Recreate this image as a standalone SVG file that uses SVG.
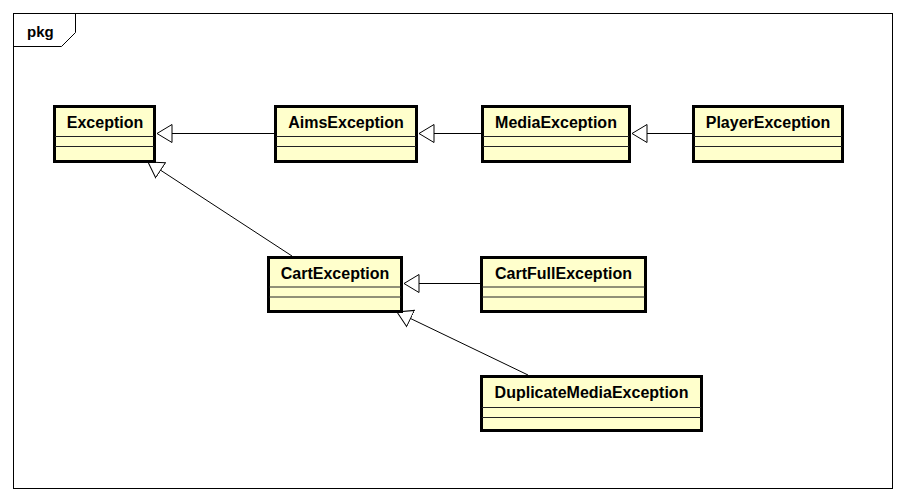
<svg xmlns="http://www.w3.org/2000/svg" width="906" height="501" viewBox="0 0 906 501">
  <style>
    .box { fill: #FFFFCC; stroke: #000; stroke-width: 3; }
    .sep { stroke: #222; stroke-width: 1; }
    .name { font-family: "Liberation Sans", Arial, sans-serif; font-weight: bold; font-size: 16px; text-anchor: middle; fill: #000; }
    .conn { stroke: #000; stroke-width: 1; fill: none; marker-end: url(#gen); }
    .frame { fill: none; stroke: #000; stroke-width: 1; }
  </style>
  <defs>
    <marker id="gen" viewBox="0 0 16 20" refX="15.5" refY="10" markerWidth="16" markerHeight="20" markerUnits="userSpaceOnUse" orient="auto">
      <path d="M15.5,10 L0.5,1 L0.5,19 Z" fill="#fff" stroke="#000" stroke-width="1"/>
    </marker>
  </defs>
  <rect width="906" height="501" fill="#fff"/>
  <g id="frame">
    <rect class="frame" x="13.5" y="13.5" width="879" height="475"/>
    <path class="frame" d="M13.5,46.5 L61.5,46.5 L75.5,32.5 L75.5,13.5"/>
    <text x="27" y="37" style="font-family: 'Liberation Sans', Arial, sans-serif; font-weight: bold; font-size: 15px;">pkg</text>
  </g>
  <g id="connectors">
    <path class="conn" d="M274,133.5 L157,133.5"/>
    <path class="conn" d="M481,133.5 L419,133.5"/>
    <path class="conn" d="M692,133.5 L632,133.5"/>
    <path class="conn" d="M480,283.5 L404,283.5"/>
    <path class="conn" d="M292,256 L148,162"/>
    <path class="conn" d="M528,375 L397,312"/>
  </g>
  <g id="Exception">
    <rect class="box" x="54.5" y="106.5" width="100" height="55"/>
    <line class="sep" x1="55" y1="136.5" x2="154" y2="136.5"/>
    <line class="sep" x1="55" y1="146.5" x2="154" y2="146.5"/>
    <text class="name" x="105" y="128">Exception</text>
  </g>
  <g id="AimsException">
    <rect class="box" x="275.5" y="106.5" width="141" height="55"/>
    <line class="sep" x1="276" y1="136.5" x2="416" y2="136.5"/>
    <line class="sep" x1="276" y1="146.5" x2="416" y2="146.5"/>
    <text class="name" x="346" y="128">AimsException</text>
  </g>
  <g id="MediaException">
    <rect class="box" x="482.5" y="106.5" width="147" height="55"/>
    <line class="sep" x1="483" y1="136.5" x2="629" y2="136.5"/>
    <line class="sep" x1="483" y1="146.5" x2="629" y2="146.5"/>
    <text class="name" x="556" y="128">MediaException</text>
  </g>
  <g id="PlayerException">
    <rect class="box" x="693.5" y="106.5" width="149" height="55"/>
    <line class="sep" x1="694" y1="136.5" x2="842" y2="136.5"/>
    <line class="sep" x1="694" y1="146.5" x2="842" y2="146.5"/>
    <text class="name" x="768" y="128">PlayerException</text>
  </g>
  <g id="CartException">
    <rect class="box" x="268.5" y="257.5" width="133" height="54"/>
    <line class="sep" x1="269" y1="287" x2="401" y2="287"/>
    <line class="sep" x1="269" y1="297" x2="401" y2="297"/>
    <text class="name" x="335" y="279">CartException</text>
  </g>
  <g id="CartFullException">
    <rect class="box" x="481.5" y="257.5" width="164" height="54"/>
    <line class="sep" x1="482" y1="287" x2="645" y2="287"/>
    <line class="sep" x1="482" y1="297" x2="645" y2="297"/>
    <text class="name" x="563.5" y="279">CartFullException</text>
  </g>
  <g id="DuplicateMediaException">
    <rect class="box" x="481.5" y="376.5" width="220" height="54"/>
    <line class="sep" x1="482" y1="407.5" x2="701" y2="407.5"/>
    <line class="sep" x1="482" y1="417.5" x2="701" y2="417.5"/>
    <text class="name" x="591.5" y="398">DuplicateMediaException</text>
  </g>
</svg>
